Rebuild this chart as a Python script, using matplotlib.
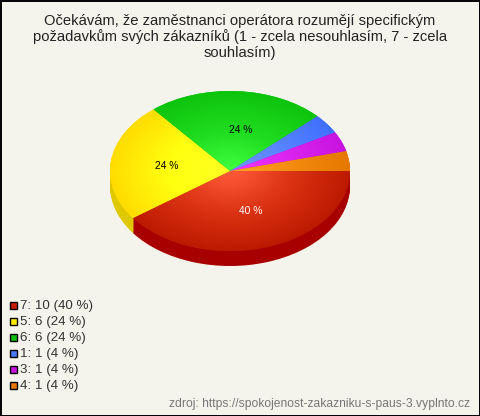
import numpy as np
import matplotlib
matplotlib.use("Agg")
import matplotlib.pyplot as plt
from matplotlib.colors import LinearSegmentedColormap
from matplotlib.patches import Rectangle

plt.rcParams['font.family'] = ['Liberation Sans', 'DejaVu Sans']

title_lines = ["Očekávám, že zaměstnanci operátora rozumějí specifickým",
               "požadavkům svých zákazníků (1 - zcela nesouhlasím, 7 - zcela",
               "souhlasím)"]
categories = ["7", "5", "6", "1", "3", "4"]
counts = [10, 6, 6, 1, 1, 1]
percents = [40, 24, 24, 4, 4, 4]
center_colors = ["#ff5c3c", "#ffff24", "#40ff40", "#7098ff", "#f038ff", "#ffa424"]
mid_colors = ["#dc3414", "#ffff10", "#20dc20", "#5884ff", "#dc24f0", "#f48c10"]
edge_colors = ["#bc1a00", "#ffdc00", "#0cc40c", "#4070ff", "#c814e0", "#e67800"]
side_colors = ["#a80000", "#e0c800", "#08a008", "#3050d0", "#a010b8", "#c06000"]
legend_colors = ["#c42000", "#ffea00", "#10c010", "#4a78ff", "#c814e0", "#e67800"]
label_shift_px = [(2.5, 2), (-3.5, 0), (6.5, -1), (0, 0), (0, 0), (0, 0)]
source = "zdroj: https://spokojenost-zakazniku-s-paus-3.vyplnto.cz"

W, H = 480, 416
BG = "#f5f4ec"
fig = plt.figure(figsize=(W / 100, H / 100), dpi=100, facecolor=BG)

# page coordinates
page = fig.add_axes([0, 0, 1, 1], zorder=0)
page.set_xlim(0, W); page.set_ylim(H, 0); page.axis("off")
page.add_patch(Rectangle((0.5, 0.5), W - 1, H - 1, fill=False, ec="black", lw=1.4))

for i, line in enumerate(title_lines):
    page.text(240, 20.5 + 16 * i, line, ha="center", va="center", fontsize=10.6, color="#222222")

for i, (c, n, p, col) in enumerate(zip(categories, counts, percents, legend_colors)):
    y = 305 + 16 * i
    page.add_patch(Rectangle((9.5, y - 3.5), 7, 7, fc=col, ec="black", lw=1))
    page.text(20, y + 0.5, f"{c}: {n} ({p} %)", ha="left", va="center", fontsize=9.6, color="#333333")

page.text(470, 404, source, ha="right", va="center", fontsize=8.75, color="#777777")

# pie axes: unit circle maps to an ellipse 240 x 160 px centred on (230, 171)
ax = fig.add_axes([110 / W, 1 - 251 / H, 240 / W, 160 / H], zorder=1)
ax.patch.set_alpha(0)
depth = 15 / 80
for d in np.linspace(depth, 0.01, 15):
    ax.pie(counts, startangle=0, counterclock=False, colors=side_colors,
           center=(0, -d), radius=1, frame=True,
           wedgeprops=dict(lw=0.3, edgecolor="none"))

wedges, _, autotexts = ax.pie(counts, startangle=0, counterclock=False, colors=edge_colors,
                              center=(0, 0), radius=1, frame=True, autopct="%d %%",
                              pctdistance=0.5, wedgeprops=dict(lw=0))
ax.set_aspect("auto")
ax.axis("off")
ax.set_clip_on(False)

xx, yy = np.meshgrid(np.linspace(-1, 1, 480), np.linspace(-1, 1, 320))
rr = np.clip(np.hypot(xx, yy), 0, 1)
for w, c0, cm, c1 in zip(wedges, center_colors, mid_colors, edge_colors):
    cmap = LinearSegmentedColormap.from_list("g", [c0, cm, c1])
    im = ax.imshow(rr, extent=(-1, 1, -1, 1), cmap=cmap, vmin=0, vmax=1, aspect="auto",
                   origin="lower", zorder=3, interpolation="bilinear")
    im.set_clip_path(w)

ax.set_xlim(-1, 1)
ax.set_ylim(-1, 1)

for i, t in enumerate(autotexts):
    t.set_fontsize(7.4)
    t.set_zorder(5)
    t.set_color("white" if i == 0 else "black")
    tx, ty = t.get_position()
    dx, dy = label_shift_px[i]
    t.set_position((tx + dx / 120, ty - dy / 80))
    if percents[i] < 10:
        t.set_visible(False)

fig.savefig("out.png", dpi=100, facecolor=BG)
